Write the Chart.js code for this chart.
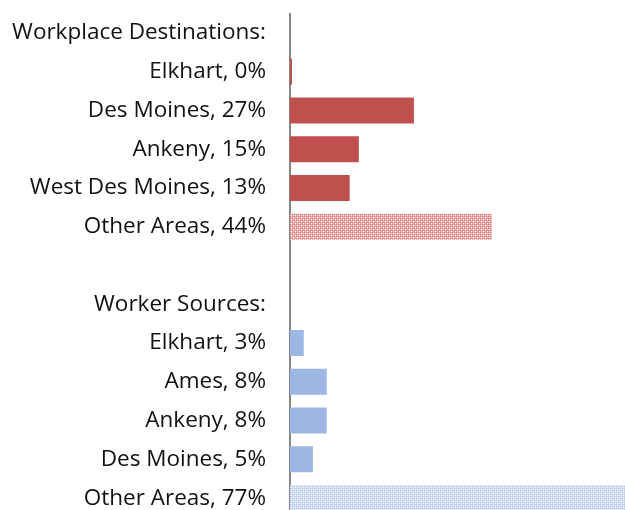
<!DOCTYPE html>
<html>
<head>
<meta charset="utf-8">
<script src="https://cdn.jsdelivr.net/npm/chart.js@4"></script>
<style>
  html, body { margin: 0; padding: 0; background: #fff; overflow: hidden; }
  canvas { display: block; }
</style>
</head>
<body>
<canvas id="myChart" width="625" height="531"></canvas>
<script>
// categorias y valores (%)
var labels = [
  'Workplace Destinations:', 'Elkhart, 0%', 'Des Moines, 27%', 'Ankeny, 15%',
  'West Des Moines, 13%', 'Other Areas, 44%', '',
  'Worker Sources:', 'Elkhart, 3%', 'Ames, 8%', 'Ankeny, 8%', 'Des Moines, 5%', 'Other Areas, 77%'
];
var destinations = [null, 0, 27, 15, 13, 44, null, null, null, null, null, null, null];
var sources = [null, null, null, null, null, null, null, null, 3, 8, 8, 5, 77];

var red = '#C0504D';
var blue = '#9CB7E4';

// patron de trama para "Other Areas"
function makePattern(dark, light) {
  var c = document.createElement('canvas');
  c.width = 4; c.height = 4;
  var g = c.getContext('2d');
  g.fillStyle = light;
  g.fillRect(0, 0, 4, 4);
  g.fillStyle = dark;
  g.fillRect(0, 0, 1, 1); g.fillRect(2, 2, 1, 1);
  g.fillRect(2, 0, 1, 1); g.fillRect(0, 2, 1, 1);
  g.fillStyle = '#ffffff';
  g.fillRect(1, 1, 1, 1); g.fillRect(3, 3, 1, 1);
  return g.createPattern(c, 'repeat');
}
var redHatch = makePattern('#D77371', '#EDB6B5');
var blueHatch = makePattern('#AFC5EB', '#D3E0F5');

var redColors = destinations.map(function (v, i) { return i === 5 ? redHatch : red; });
var blueColors = sources.map(function (v, i) { return i === 12 ? blueHatch : blue; });

var ctx = document.getElementById('myChart').getContext('2d');
var chart = new Chart(ctx, {
  type: 'bar',
  data: {
    labels: labels,
    datasets: [
      { data: destinations, backgroundColor: redColors, minBarLength: 2 },
      { data: sources, backgroundColor: blueColors }
    ]
  },
  options: {
    indexAxis: 'y',
    responsive: false,
    animation: false,
    skipNull: true,
    categoryPercentage: 1,
    barPercentage: 0.67,
    layout: { padding: { top: 13, bottom: 13, left: 0, right: 0 } },
    plugins: { legend: { display: false }, tooltip: { enabled: false } },
    scales: {
      x: { display: false, min: 0, max: 73 },
      y: {
        afterFit: function (s) { s.width = 290; },
        grid: { display: false, drawTicks: true, tickLength: 24 },
        border: { display: true, color: '#868686', width: 2 },
        ticks: {
          color: '#111',
          padding: 0,
          autoSkip: false,
          font: { family: 'Open Sans', size: 22.5 }
        }
      }
    }
  }
});
</script>
</body>
</html>
